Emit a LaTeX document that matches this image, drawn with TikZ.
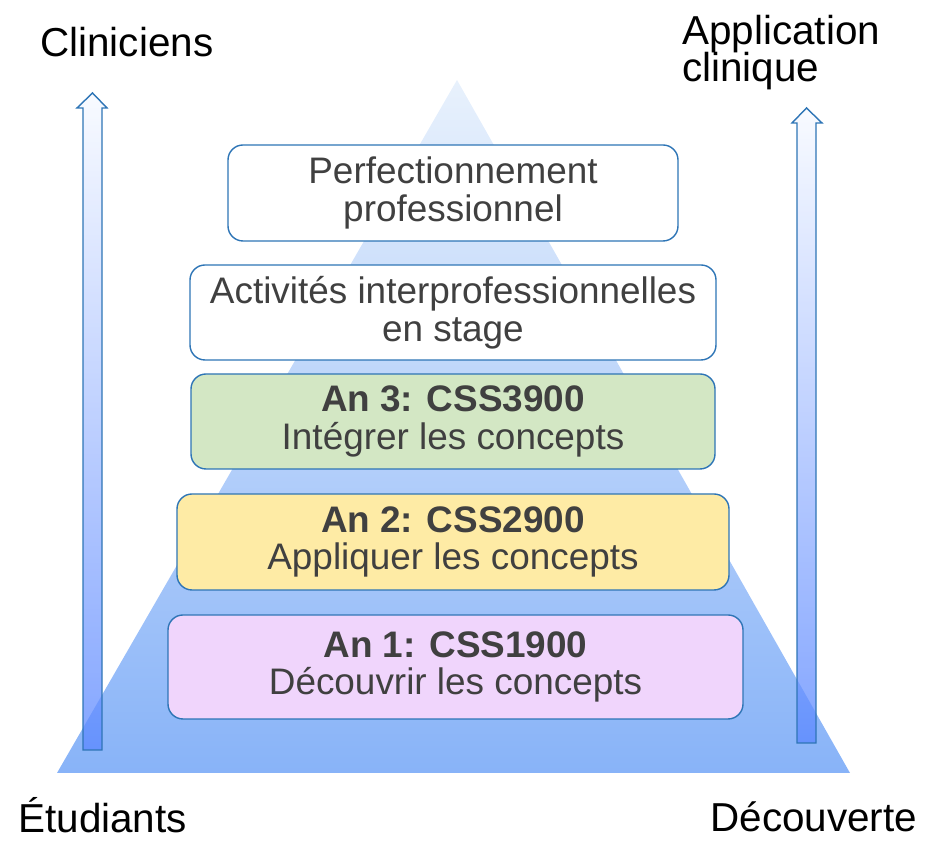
\documentclass[tikz,border=0pt]{standalone}
\usepackage{fontspec}
\setmainfont{Liberation Sans}
\usepackage{tikz}
\definecolor{PyrTop}{RGB}{232,241,252}
\definecolor{PyrBottom}{RGB}{136,179,248}
\definecolor{StepLine}{RGB}{46,117,182}
\definecolor{StepText}{RGB}{64,64,64}
\definecolor{YearOne}{RGB}{240,213,252}
\definecolor{YearTwo}{RGB}{254,235,165}
\definecolor{YearThree}{RGB}{211,231,196}
\definecolor{ArrowTop}{RGB}{246,249,255}
\definecolor{ArrowBottom}{RGB}{90,135,255}

\begin{document}
\begin{tikzpicture}[
    stepbox/.style={draw=StepLine,line width=0.8pt,rounded corners=0.3cm,
      align=center,inner sep=0pt,text=StepText,
      font=\fontsize{21}{21.5}\selectfont},
    sidelabel/.style={inner sep=0pt,font=\fontsize{23}{21.6}\selectfont},
    growth/.style={top color=ArrowTop,bottom color=ArrowBottom,
      fill opacity=0.75,draw=StepLine,line width=0.8pt}]
  \useasboundingbox (0,0) rectangle (18.5,16.84);
  % pyramid in the back
  \shade[top color=PyrTop,bottom color=PyrBottom]
    (1.14,1.38) -- (9.14,15.24) -- (17.0,1.38) -- cycle;
  % the two upward arrows
  \shadedraw[growth] (1.66,1.84) -- (1.66,14.68) -- (1.54,14.68) -- (1.85,14.98)
    -- (2.14,14.68) -- (2.04,14.68) -- (2.04,1.84) -- cycle;
  \shadedraw[growth] (15.94,1.98) -- (15.94,14.38) -- (15.84,14.38) -- (16.13,14.68)
    -- (16.44,14.38) -- (16.32,14.38) -- (16.32,1.98) -- cycle;
  % steps, bottom to top
  \node[stepbox,fill=YearOne,minimum width=11.5cm,minimum height=2.08cm]
    (yearone) at (9.11,3.5) {\textbf{An 1: CSS1900}\\Découvrir les concepts};
  \node[stepbox,fill=YearTwo,minimum width=11.04cm,minimum height=1.92cm]
    (yeartwo) at (9.06,6.0) {\textbf{An 2: CSS2900}\\Appliquer les concepts};
  \node[stepbox,fill=YearThree,minimum width=10.48cm,minimum height=1.9cm]
    (yearthree) at (9.06,8.41) {\textbf{An 3: CSS3900}\\Intégrer les concepts};
  \node[stepbox,fill=white,minimum width=10.52cm,minimum height=1.9cm]
    (stage) at (9.06,10.59) {Activités interprofessionnelles\\en stage};
  \node[stepbox,fill=white,minimum width=9.0cm,minimum height=1.92cm]
    (perfect) at (9.06,12.98) {Perfectionnement\\professionnel};
  % corner labels
  \node[sidelabel,anchor=base west] (clin) at (0.8,15.7) {Cliniciens};
  \node[sidelabel,anchor=base west,align=left] (appli) at (13.64,15.2)
    {Application\\clinique};
  \node[sidelabel,anchor=base west] (etud) at (0.36,0.18) {Étudiants};
  \node[sidelabel,anchor=base west] (decou) at (14.2,0.2) {Découverte};
\end{tikzpicture}
\end{document}
